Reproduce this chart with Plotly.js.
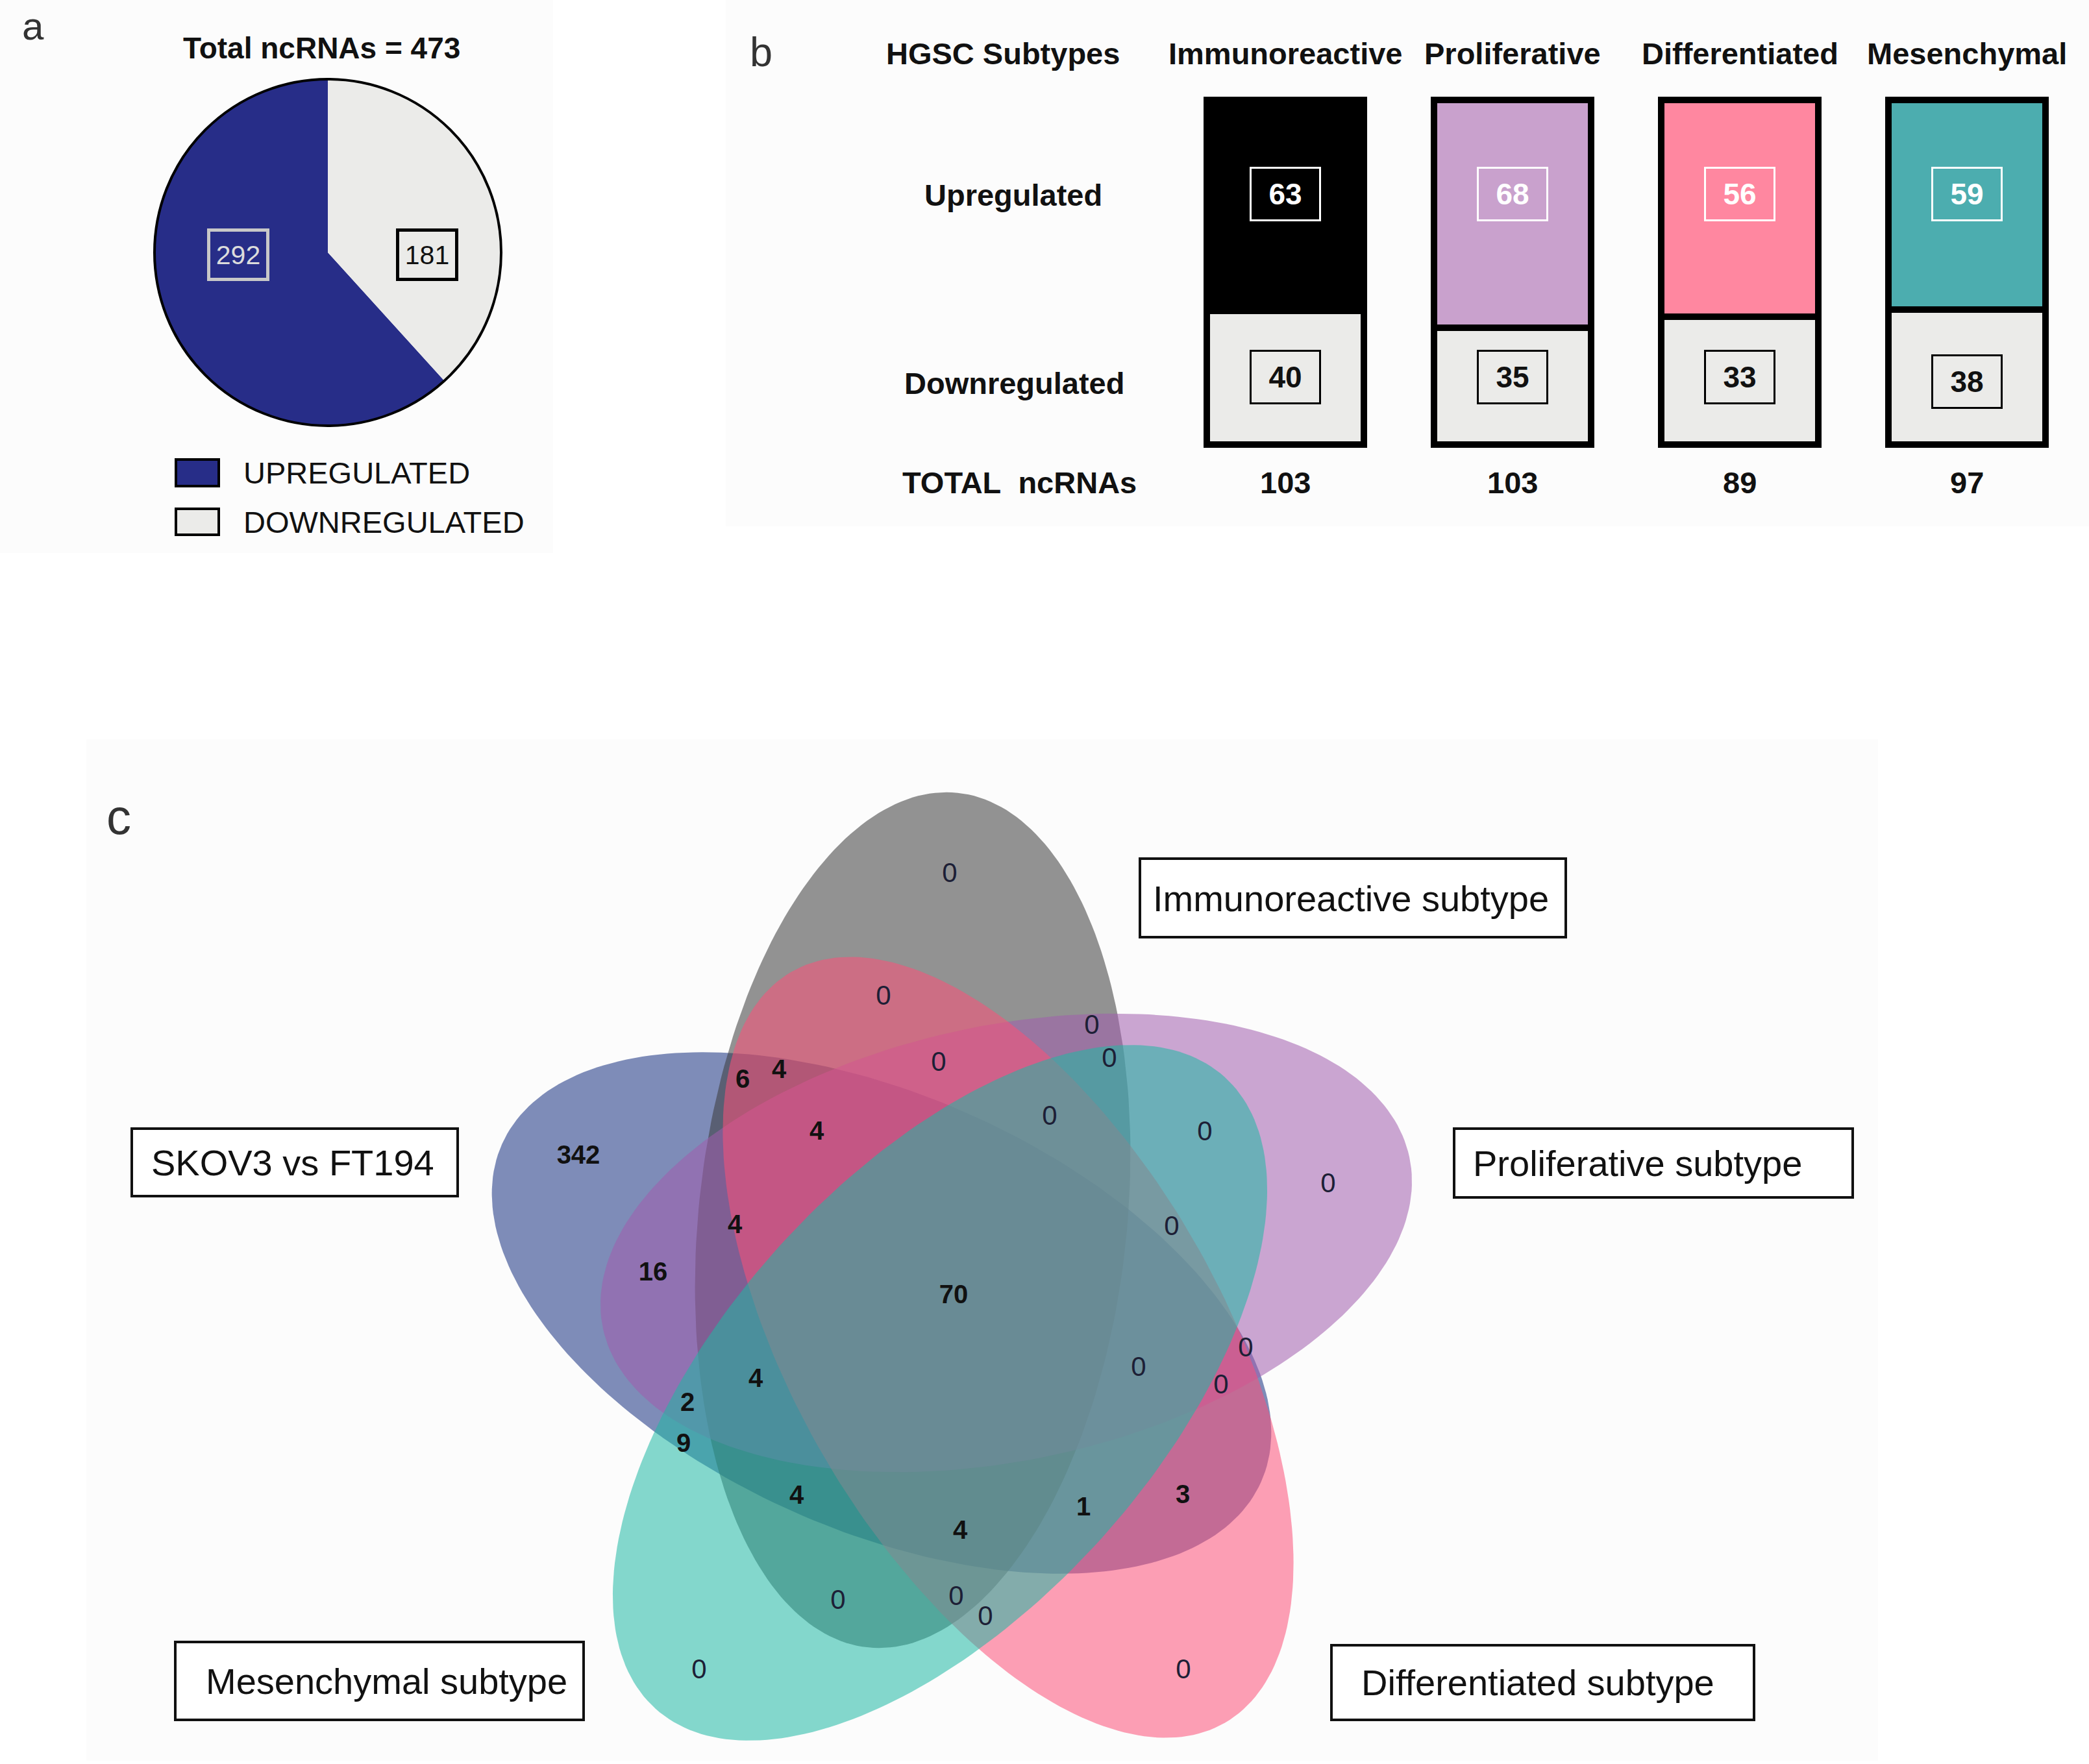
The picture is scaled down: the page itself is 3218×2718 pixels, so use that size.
<!DOCTYPE html>
<html>
<head>
<meta charset="utf-8">
<script src="https://cdn.plot.ly/plotly-3.0.1.min.js"></script>
<style>html,body{margin:0;padding:0;background:#fff;}</style>
</head>
<body>
<div id="chart" style="width:3218px;height:2718px;"></div>
<script>
// ---------------- DATA ----------------
// Panel a
const pieLabels = ['UPREGULATED', 'DOWNREGULATED'];
const pieValues = [292, 181];
const pieTotal = 473;
// Panel b
const subtypes = ['Immunoreactive', 'Proliferative', 'Differentiated', 'Mesenchymal'];
const upregulated = [63, 68, 56, 59];
const downregulated = [40, 35, 33, 38];
const totalNcRNAs = [103, 103, 89, 97];
// Panel c
const vennSets = ['SKOV3 vs FT194', 'Immunoreactive subtype', 'Proliferative subtype', 'Differentiated subtype', 'Mesenchymal subtype'];
const vennRegionCounts = [0, 0, 0, 0, 0, 6, 4, 0, 4, 0, 342, 0, 4, 0, 16, 70, 0, 0, 0, 4, 2, 9, 4, 3, 1, 4, 0, 0, 0, 0, 0];

// ---------------- LAYOUT / STYLE ----------------
const W = 3218, H = 2718;
const FONT = 'Liberation Sans, Arial, sans-serif';
const pieColors = ['#272D88', '#EBEBE9'];
const upColors = ['#000000', '#C9A1CD', '#FF87A0', '#4CADAF'];
const downColor = '#EBEBE9';

// Venn region label positions (pixel space), same order as vennRegionCounts
const vennLabelPos = [
  [1463,1348],[1361,1537],[1682,1582],[1446,1639],[1709,1633],[1144,1666],[1200,1651],
  [1617,1722],[1258,1746],[1856,1746],[891,1783],[2046,1826],[1132,1890],[1805,1892],
  [1006,1963],[1469,1998],[1919,2079],[1754,2109],[1881,2136],[1164,2127],[1059,2164],
  [1053,2227],[1227,2307],[1822,2306],[1669,2325],[1479,2361],[1291,2468],[1473,2462],
  [1518,2493],[1077,2575],[1823,2575]
];
// Ellipse geometry per set: centre, semi-axes, rotation (deg clockwise from up), colour
const vennGeom = [
  {cx:1358, cy:2023, a:640, b:335, rot:294, color:'rgba(22,48,128,0.55)'},
  {cx:1406, cy:1880, a:662, b:330, rot:6,   color:'rgba(59,59,59,0.55)'},
  {cx:1550, cy:1915, a:635, b:335, rot:78,  color:'rgba(160,93,173,0.55)'},
  {cx:1553, cy:2076, a:668, b:330, rot:150, color:'rgba(251,80,120,0.55)'},
  {cx:1448, cy:2146, a:655, b:335, rot:222, color:'rgba(31,184,164,0.55)'}
];
// Venn set label boxes: box [x0,y0,x1,y1], text start x, text centre y
const vennLabelBoxes = [
  {box:[203,1739,705,1843], tx:231, ty:1791},
  {box:[1756,1323,2412,1444], tx:1774, ty:1384},
  {box:[2240,1739,2854,1845], tx:2267, ty:1792},
  {box:[2051,2535,2702,2650], tx:2095, ty:2592},
  {box:[270,2530,899,2650], tx:315, ty:2590}
];

function ellipsePts(g, n) {
  const t = g.rot * Math.PI / 180;
  const ux = Math.sin(t), uy = -Math.cos(t), vx = Math.cos(t), vy = Math.sin(t);
  const xs = [], ys = [];
  for (let i = 0; i <= n; i++) {
    const p = 2 * Math.PI * i / n;
    xs.push(g.cx + g.a * Math.cos(p) * ux + g.b * Math.sin(p) * vx);
    ys.push(g.cy + g.a * Math.cos(p) * uy + g.b * Math.sin(p) * vy);
  }
  return {xs, ys};
}

const traces = [];
// Pie (panel a): upregulated slice ends at 12 o'clock on the left side
const pieSum = pieValues.reduce((s, v) => s + v, 0);
traces.push({
  type: 'pie', labels: pieLabels, values: pieValues, sort: false,
  direction: 'clockwise', rotation: 360 * pieValues[1] / pieSum,
  marker: {colors: pieColors, line: {width: 0}},
  textinfo: 'none', hoverinfo: 'skip', showlegend: false,
  domain: {x: [238 / W, 772 / W], y: [(H - 656) / H, (H - 122) / H]}
});
// Bars (panel b)
traces.push({
  type: 'bar', x: subtypes, y: downregulated, xaxis: 'x2', yaxis: 'y2',
  marker: {color: downColor, line: {color: '#000', width: 10}}, hoverinfo: 'skip', name: 'Downregulated'
});
traces.push({
  type: 'bar', x: subtypes, y: upregulated, xaxis: 'x2', yaxis: 'y2',
  marker: {color: upColors, line: {color: '#000', width: 10}}, hoverinfo: 'skip', name: 'Upregulated'
});
// Venn ellipses (panel c)
vennGeom.forEach((g, i) => {
  const e = ellipsePts(g, 240);
  traces.push({
    type: 'scatter', mode: 'lines', x: e.xs, y: e.ys, fill: 'toself',
    fillcolor: g.color, line: {width: 0, color: 'rgba(0,0,0,0)'}, hoverinfo: 'skip',
    name: vennSets[i], showlegend: false, xaxis: 'x', yaxis: 'y'
  });
});
// Venn counts
traces.push({
  type: 'scatter', mode: 'text', xaxis: 'x', yaxis: 'y',
  x: vennLabelPos.map(p => p[0]), y: vennLabelPos.map(p => p[1]),
  text: vennRegionCounts.map(v => v > 0 ? '<b>' + v + '</b>' : String(v)),
  textposition: 'middle center',
  textfont: {family: FONT, size: vennRegionCounts.map(v => v > 0 ? 40 : 42),
             color: vennRegionCounts.map(v => v > 0 ? '#111111' : '#1d1f36')},
  hoverinfo: 'skip', showlegend: false, cliponaxis: false
});

const shapes = [];
const annotations = [];
// faint panel backgrounds
[[0,0,852,852],[1118,0,3218,811],[133,1139,2893,2713]].forEach(r => {
  shapes.push({type:'rect', xref:'x', yref:'y', x0:r[0], y0:r[1], x1:r[2], y1:r[3],
    fillcolor:'#fcfcfc', line:{width:0}, layer:'below'});
});
// pie outline
shapes.push({type:'circle', xref:'x', yref:'y', x0:238, x1:772, y0:122, y1:656,
  line:{color:'#000', width:4}, fillcolor:'rgba(0,0,0,0)'});
// pie legend swatches
[[708,749],[784,824]].forEach((yy, i) => {
  shapes.push({type:'rect', xref:'x', yref:'y', x0:271, x1:337, y0:yy[0], y1:yy[1],
    fillcolor: pieColors[i], line:{color:'#000', width:4}});
  annotations.push({xref:'x', yref:'y', x:373, y:(yy[0]+yy[1])/2, text: pieLabels[i], showarrow:false,
    xanchor:'left', yanchor:'middle', font:{family:FONT, size:47, color:'#111'}});
});
// panel labels
annotations.push({xref:'x', yref:'y', x:51, y:40, text:'a', showarrow:false, font:{family:FONT, size:60, color:'#333'}});
annotations.push({xref:'x', yref:'y', x:1172, y:80, text:'b', showarrow:false, font:{family:FONT, size:63, color:'#333'}});
annotations.push({xref:'x', yref:'y', x:183, y:1258, text:'c', showarrow:false, font:{family:FONT, size:76, color:'#333'}});
// pie title
annotations.push({xref:'x', yref:'y', x:495, y:74, text:'<b>Total ncRNAs = ' + pieTotal + '</b>', showarrow:false,
  font:{family:FONT, size:46, color:'#111'}});
// pie value boxes
const pieBoxX = [367, 658];
const pieBoxStyle = [{border:'#C8C8C8', text:'#DCDCDC'}, {border:'#000000', text:'#111111'}];
pieValues.forEach((v, i) => {
  annotations.push({xref:'x', yref:'y', x:pieBoxX[i], y:392, text:String(v), showarrow:false,
    width:86, height:71, borderpad:0, borderwidth:5, bordercolor:pieBoxStyle[i].border,
    font:{family:FONT, size:41, color:pieBoxStyle[i].text}});
});
// panel b headers & row labels
const boldB = {family:FONT, size:47, color:'#111'};
annotations.push({xref:'x', yref:'y', x:1545, y:82, text:'<b>HGSC Subtypes</b>', showarrow:false, font:boldB});
annotations.push({xref:'x', yref:'y', x:1561, y:300, text:'<b>Upregulated</b>', showarrow:false, font:boldB});
annotations.push({xref:'x', yref:'y', x:1562, y:590, text:'<b>Downregulated</b>', showarrow:false, font:boldB});
annotations.push({xref:'x', yref:'y', x:1570, y:743, text:'<b>TOTAL\u00a0 ncRNAs</b>', showarrow:false, font:boldB});
subtypes.forEach((s, i) => {
  annotations.push({xref:'x2', yref:'y', x:s, y:82, text:'<b>' + s + '</b>', showarrow:false, font:boldB});
  annotations.push({xref:'x2', yref:'y', x:s, y:743, text:'<b>' + totalNcRNAs[i] + '</b>', showarrow:false, font:boldB});
  annotations.push({xref:'x2', yref:'y', x:s, y:299, text:'<b>' + upregulated[i] + '</b>', showarrow:false,
    width:104, height:78, borderpad:0, borderwidth:3, bordercolor:'#ffffff',
    font:{family:FONT, size:46, color:'#ffffff'}});
  annotations.push({xref:'x2', yref:'y', x:s, y:(i === 3 ? 588 : 581), text:'<b>' + downregulated[i] + '</b>', showarrow:false,
    width:104, height:78, borderpad:0, borderwidth:3, bordercolor:'#000000',
    font:{family:FONT, size:46, color:'#111'}});
});
// Venn set label boxes
vennLabelBoxes.forEach((lb, i) => {
  shapes.push({type:'rect', xref:'x', yref:'y', x0:lb.box[0], y0:lb.box[1], x1:lb.box[2], y1:lb.box[3],
    fillcolor:'#ffffff', line:{color:'#111', width:4}});
  annotations.push({xref:'x', yref:'y', x:lb.tx, y:lb.ty, text:vennSets[i], showarrow:false,
    xanchor:'left', yanchor:'middle', font:{family:FONT, size:56, color:'#111'}});
});

const layout = {
  width: W, height: H, autosize: false,
  margin: {l:0, r:0, t:0, b:0, pad:0},
  paper_bgcolor: '#ffffff', plot_bgcolor: 'rgba(0,0,0,0)',
  showlegend: false,
  xaxis: {domain:[0,1], range:[0, W], visible:false, fixedrange:true},
  yaxis: {domain:[0,1], range:[H, 0], visible:false, fixedrange:true},
  xaxis2: {domain:[1805 / W, 3205 / W], anchor:'y2', type:'category', range:[-0.5, 3.5],
           visible:false, fixedrange:true, categoryorder:'array', categoryarray: subtypes},
  yaxis2: {domain:[(H - 695.6) / H, (H - 143.4) / H], anchor:'x2', range:[-2, 102], visible:false, fixedrange:true},
  barmode: 'stack', barnorm: 'percent', bargap: 0.311,
  shapes: shapes, annotations: annotations,
  font: {family: FONT}
};

Plotly.newPlot('chart', traces, layout, {staticPlot: true, displayModeBar: false});
</script>
</body>
</html>
